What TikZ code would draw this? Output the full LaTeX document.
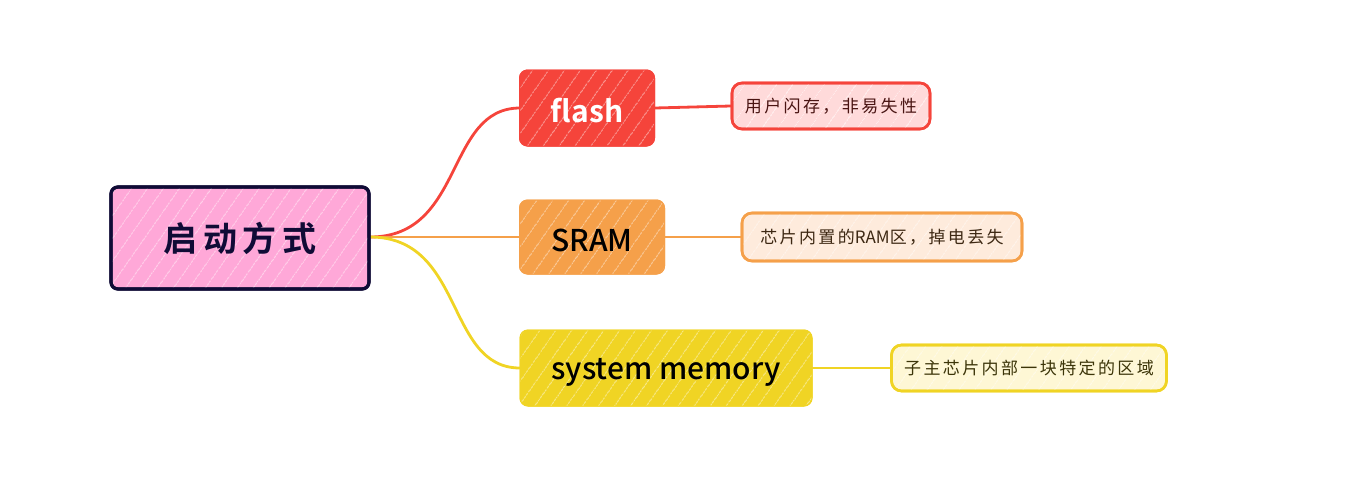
\documentclass[tikz,border=0pt]{standalone}
\usepackage{fontspec}
\setmainfont{Noto Sans CJK SC}
\newfontfamily\cjkb{Noto Sans CJK SC Bold}
\newfontfamily\cjkm{Noto Sans CJK SC Medium}
\usetikzlibrary{patterns.meta}
\definecolor{cred}{HTML}{F5443B}
\definecolor{corange}{HTML}{F5A04A}
\definecolor{cyellow}{HTML}{F0D424}
\definecolor{cnavy}{HTML}{100B36}
\definecolor{cpink}{HTML}{FFA8D8}
\definecolor{lred}{HTML}{FFDADA}
\definecolor{lorange}{HTML}{FEEBDC}
\definecolor{lyellow}{HTML}{FEF7D5}
\tikzset{
  hatch/.style={postaction={pattern={Lines[angle=55,distance=13pt,line width=0.9pt]},pattern color=white,fill opacity=0.45},postaction={draw}},
  rootbox/.style={draw=cnavy,line width=3.2pt,fill=cpink,rounded corners=7pt,minimum width=258pt,minimum height=102pt,inner sep=0pt,hatch},
  mainbox/.style={draw=#1,line width=1pt,fill=#1,rounded corners=8pt,inner sep=0pt,hatch},
  leafbox/.style={line width=2.6pt,rounded corners=10pt,inner sep=0pt,hatch},
  conn/.style={line width=2.8pt,line cap=round},
  maintext/.style={font=\cjkm\fontsize{30}{34}\selectfont},
  leaftext/.style={font=\fontsize{17}{19}\selectfont\addfontfeature{LetterSpace=14}}
}
\begin{document}
\begin{tikzpicture}[x=1pt,y=-1pt]
\useasboundingbox (0,0) rectangle (1346,491);
% connectors first
\coordinate (re) at (370,237);
\coordinate (fw) at (520,108);
\coordinate (sw) at (520,237);
\coordinate (yw) at (520,368);
\draw[conn,cred] (re) .. controls +(95,0) and +(-75,0) .. (fw);
\draw[conn,corange] (re) -- (sw);
\draw[conn,cyellow] (re) .. controls +(95,0) and +(-75,0) .. (yw);
% boxes
\node[rootbox] (root) at (240,238) {};
\node[mainbox=cred,minimum width=135pt,minimum height=76pt] (flash) at (587,108) {};
\node[mainbox=corange,minimum width=145pt,minimum height=74pt] (sram) at (592,237) {};
\node[mainbox=cyellow,minimum width=292pt,minimum height=76pt] (sys) at (666,368) {};
\node[leafbox,draw=cred,fill=lred,minimum width=198pt,minimum height=46pt] (l1) at (831,106) {};
\node[leafbox,draw=corange,fill=lorange,minimum width=280pt,minimum height=48pt] (l2) at (882,237) {};
\node[leafbox,draw=cyellow,fill=lyellow,minimum width=275pt,minimum height=46pt] (l3) at (1029,368) {};
\draw[conn,cred] (flash.east) -- (l1.west);
\draw[conn,corange] (sram.east) -- (l2.west);
\draw[conn,cyellow] (sys.east) -- (l3.west);
% texts
\node[font=\cjkb\fontsize{34}{38}\selectfont\addfontfeature{LetterSpace=16},text=cnavy] (rt) at (root.center) {启动方式};
\node[font=\cjkb\fontsize{30}{34}\selectfont,text=white] (ft) at ([yshift=-3pt]flash.center) {flash};
\node[maintext,text=black] (st) at ([yshift=-3pt]sram.center) {SRAM};
\node[maintext,text=black] (yt) at ([yshift=-4pt]sys.center) {system memory};
\node[leaftext,text=black!70!cred] (t1) at (l1.center) {用户闪存，非易失性};
\node[leaftext,text=black!75!corange] (t2) at (l2.center) {芯片内置的{\addfontfeature{LetterSpace=0}RAM}区，掉电丢失};
\node[leaftext,text=black!75!cyellow] (t3) at (l3.center) {子主芯片内部一块特定的区域};
\end{tikzpicture}
\end{document}
